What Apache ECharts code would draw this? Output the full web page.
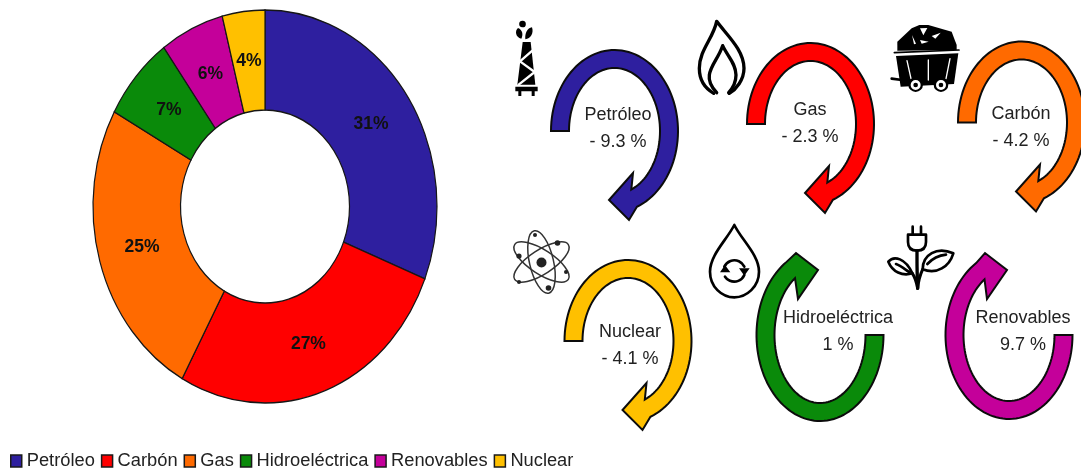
<!DOCTYPE html>
<html lang="es">
<head>
<meta charset="utf-8">
<title>Consumo de energía por fuente</title>
<style>
  html, body { margin: 0; padding: 0; background: #fff; }
  #chart { width: 1081px; height: 474px; }
</style>
<script src="https://cdn.jsdelivr.net/npm/echarts@6/dist/echarts.min.js"></script>
</head>
<body>
<div id="chart"></div>
<script>
// Participación de cada fuente (%)
const sourceNames = ['Petróleo', 'Carbón', 'Gas', 'Hidroeléctrica', 'Renovables', 'Nuclear'];
const sourceShares = [31, 27, 25, 7, 6, 4];
const sourceColors = ['#2E1F9F', '#FF0000', '#FF6A00', '#0A8A0A', '#C4009A', '#FFC000'];

// Variación anual de cada fuente (%)
const changeNames = ['Petróleo', 'Gas', 'Carbón', 'Nuclear', 'Hidroeléctrica', 'Renovables'];
const changeValues = [-9.3, -2.3, -4.2, -4.1, 1, 9.7];
const changeColors = ['#2E1F9F', '#FF0000', '#FF6A00', '#FFC000', '#0A8A0A', '#C4009A'];

// Geometría del anillo elíptico
const ring = { cx: 265, cy: 206.5, r0: 84.5, r: 172, scaleY: 1.1424, labelAt: 0.745 };

// Colocación de las flechas circulares y de sus rótulos
const arrowLayout = [
  { cx: 614.5, cy: 131, ry: 81, dir: 'down', tx: 618, ty: 115 },
  { cx: 810.5, cy: 124, ry: 81, dir: 'down', tx: 810, ty: 110 },
  { cx: 1021.5, cy: 122.5, ry: 81, dir: 'down', tx: 1021, ty: 114 },
  { cx: 628, cy: 341, ry: 81, dir: 'down', tx: 630, ty: 332 },
  { cx: 820, cy: 335, ry: 86, dir: 'up', tx: 838, ty: 318 },
  { cx: 1009, cy: 335, ry: 84, dir: 'up', tx: 1023, ty: 318 }
];
const arrowShape = { rx: 63.5, band: 18 };
const arrowHeads = {
  down: { startAngle: Math.PI, outerNotch: [22.5, 76], outerBarb: [14.5, 89], tip: [-5.5, 69], innerBarb: [18.5, 42], innerNotch: [15.5, 54] },
  up: { startAngle: 0, outerNotch: [-32, -70], outerBarb: [-24, -82], tip: [-2, -65], innerBarb: [-22, -36], innerNotch: [-22, -50] }
};

function donutItem(index) {
  const before = sourceShares.slice(0, index).reduce((a, b) => a + b, 0);
  return function (params, api) {
    const share = api.value(0);
    const start = -Math.PI / 2 + before / 100 * 2 * Math.PI;
    const end = start + share / 100 * 2 * Math.PI;
    const mid = (start + end) / 2;
    return {
      type: 'group',
      children: [
        {
          type: 'sector',
          x: ring.cx, y: ring.cy, scaleY: ring.scaleY,
          shape: { cx: 0, cy: 0, r0: ring.r0, r: ring.r, startAngle: start, endAngle: end, clockwise: true },
          style: { fill: api.visual('color'), stroke: '#161616', lineWidth: 1.2 }
        },
        {
          type: 'text',
          x: ring.cx + Math.cos(mid) * ring.r * ring.labelAt,
          y: ring.cy + Math.sin(mid) * ring.r * ring.scaleY * ring.labelAt,
          style: {
            text: share + '%', fill: '#111',
            font: 'bold 17.5px "Liberation Sans", Arial, sans-serif',
            align: 'center', verticalAlign: 'middle'
          }
        }
      ]
    };
  };
}

// Contorno de una flecha: arco exterior, punta y arco interior de regreso
function arrowPoints(box) {
  const head = arrowHeads[box.dir];
  const rxIn = arrowShape.rx - arrowShape.band;
  const ryIn = box.ry - arrowShape.band;
  const angleOf = (p, rx, ry) => {
    let a = Math.atan2(p[1] / ry, p[0] / rx);
    while (a < head.startAngle) a += 2 * Math.PI;
    return a;
  };
  const pts = [];
  const endOut = angleOf(head.outerNotch, arrowShape.rx, box.ry);
  const endIn = angleOf(head.innerNotch, rxIn, ryIn);
  const steps = 80;
  for (let i = 0; i <= steps; i++) {
    const a = head.startAngle + (endOut - head.startAngle) * i / steps;
    pts.push([box.cx + arrowShape.rx * Math.cos(a), box.cy + box.ry * Math.sin(a)]);
  }
  [head.outerBarb, head.tip, head.innerBarb].forEach(p => pts.push([box.cx + p[0], box.cy + p[1]]));
  for (let i = steps; i >= 0; i--) {
    const a = head.startAngle + (endIn - head.startAngle) * i / steps;
    pts.push([box.cx + rxIn * Math.cos(a), box.cy + ryIn * Math.sin(a)]);
  }
  return pts;
}

function changeLabel(v) {
  return v < 0 ? '- ' + Math.abs(v) + ' %' : v + ' %';
}

function arrowItem(params, api) {
  const i = params.dataIndex;
  const box = arrowLayout[i];
  const textStyle = { fill: '#222', font: '18px "Liberation Sans", Arial, sans-serif', align: 'center', verticalAlign: 'middle' };
  return {
    type: 'group',
    children: [
      {
        type: 'polygon',
        shape: { points: arrowPoints(box) },
        style: { fill: changeColors[i], stroke: '#0c0c0c', lineWidth: 2, lineJoin: 'miter' }
      },
      { type: 'text', x: box.tx, y: box.ty + 0.5, style: Object.assign({ text: changeNames[i] }, textStyle) },
      { type: 'text', x: box.tx, y: box.ty + 27.5, style: Object.assign({ text: changeLabel(api.value(0)) }, textStyle) }
    ]
  };
}

// Iconos: trazados en una retícula de 3 unidades por píxel
const third = 1 / 3;
function solid(x, y, pathData, fill) {
  return { type: 'path', x: x, y: y, scaleX: third, scaleY: third,
    shape: { pathData: pathData }, style: { fill: fill || '#000', stroke: null } };
}
function line(x, y, pathData, width, color) {
  return { type: 'path', x: x, y: y, scaleX: third, scaleY: third,
    shape: { pathData: pathData }, style: { fill: null, stroke: color || '#000', lineWidth: width, lineJoin: 'round', lineCap: 'round' } };
}
function orbit(cx, cy, rotationDeg) {
  return { type: 'ellipse', x: cx, y: cy, rotation: rotationDeg * Math.PI / 180,
    shape: { cx: 0, cy: 0, rx: 32, ry: 12 }, style: { fill: null, stroke: '#333', lineWidth: 1.5 } };
}
function dot(x, y, r, color) {
  return { type: 'circle', shape: { cx: x, cy: y, r: r }, style: { fill: color || '#222' } };
}

const derrick = [
  solid(500, 0, 'M68 62 a10 10 0 1 1 -1 0 Z M54 84 C44 92 46 112 64 116 C70 104 68 90 54 84 Z M96 82 C82 84 74 100 76 118 C92 116 102 100 96 82 Z'),
  solid(500, 0, 'M68 126 H92 L106 254 H52 Z'),
  line(500, 0, 'M97 152 L60 184 L104 216 L56 254', 7, '#fff'),
  solid(500, 0, 'M46 260 H113 V274 H104 V288 H95 V274 H64 V288 H55 V274 H46 Z')
];
const flame = [
  line(500, 0, 'M641 280 C620 268 598 245 598 205 C598 150 640 115 650 64 C680 105 732 150 732 205 C732 240 708 268 688 280', 10),
  line(500, 0, 'M650 278 C635 262 625 245 628 225 C632 195 655 175 668 137 C680 165 708 190 708 225 C708 248 695 268 686 278', 10)
];
const coalCart = [
  solid(780, 0, 'M352 152 L352 125 L395 85 L418 75 L445 75 L515 95 L530 135 L530 150 Z'),
  solid(780, 0, 'M420 85 L442 84 L430 106 Z M396 105 L408 131 L402 133 Z M420 120 L446 125 L425 131 Z M455 108 L482 98 L466 116 Z', '#fff'),
  line(780, 0, 'M343 158 L537 150', 5),
  solid(780, 0, 'M348 168 L535 160 L522 252 L362 260 Z'),
  line(780, 0, 'M381 182 L393 236 M445 180 L445 240 M510 176 L498 236', 4, '#fff'),
  line(780, 0, 'M335 236 L366 240', 8),
  solid(780, 0, 'M407 232 a22 22 0 1 1 -0.1 0 Z M483 232 a22 22 0 1 1 -0.1 0 Z'),
  solid(780, 0, 'M407 240 a15 15 0 1 1 -0.1 0 Z M483 240 a15 15 0 1 1 -0.1 0 Z', '#fff'),
  solid(780, 0, 'M407 248 a7 7 0 1 1 -0.1 0 Z M483 248 a7 7 0 1 1 -0.1 0 Z')
];
const atom = [
  orbit(541.5, 262, -77), orbit(541.5, 262, -33), orbit(541.5, 262, 33),
  dot(541.5, 262.5, 5), dot(535, 235, 2), dot(557.5, 243, 2.8), dot(519, 256, 2.6),
  dot(566, 272, 2), dot(519, 282, 2), dot(548.5, 288, 2.8)
];
const waterDrop = [
  line(500, 220, 'M703 15 C680 60 630 105 630 155 C630 200 665 232 703 232 C740 232 777 200 777 155 C777 105 725 60 703 15 Z', 8),
  line(500, 220, 'M673 140 A33 33 0 0 1 733 140 M733 165 A33 33 0 0 1 675 170', 8),
  solid(500, 220, 'M717 145 L749 145 L733 167 Z M660 157 L691 157 L675 135 Z')
];
const plugPlant = [
  line(780, 220, 'M398 20 V42 M423 20 V42', 8),
  line(780, 220, 'M384 44 H438 V66 C438 85 426 92 411 92 C396 92 384 85 384 66 Z', 8),
  line(780, 220, 'M411 92 V125 M411 125 C411 150 412 175 413 205', 10),
  line(780, 220, 'M428 148 C428 105 470 78 520 100 C508 140 470 165 428 148 Z M442 132 C458 115 478 106 498 104', 8),
  line(780, 220, 'M325 125 C342 105 377 115 397 160 C367 170 337 155 325 125 Z M348 132 C362 137 374 147 387 156', 8),
  line(780, 220, 'M428 148 C420 165 415 185 413 205 M397 160 C405 172 410 188 413 205', 9)
];
const iconParts = [].concat(derrick, flame, coalCart, atom, waterDrop, plugPlant);

const series = sourceNames.map((name, i) => ({
  name: name,
  type: 'custom',
  coordinateSystem: 'none',
  silent: true,
  animation: false,
  itemStyle: { color: sourceColors[i] },
  renderItem: donutItem(i),
  data: [[sourceShares[i]]]
}));
series.push({
  name: 'Variación',
  type: 'custom',
  coordinateSystem: 'none',
  silent: true,
  animation: false,
  clip: false,
  renderItem: arrowItem,
  data: changeValues.map(v => [v])
});
series.push({
  name: 'Iconos',
  type: 'custom',
  coordinateSystem: 'none',
  silent: true,
  animation: false,
  renderItem: () => ({ type: 'group', children: iconParts }),
  data: [[0]]
});

const chart = echarts.init(document.getElementById('chart'), null, { renderer: 'canvas' });
chart.setOption({
  backgroundColor: '#fff',
  animation: false,
  legend: {
    data: sourceNames,
    left: 10,
    top: 452,
    padding: 0,
    icon: 'rect',
    itemWidth: 11,
    itemHeight: 12,
    itemGap: 6,
    selectedMode: false,
    itemStyle: { borderColor: '#1a1a1a', borderWidth: 1.5 },
    textStyle: { color: '#222', fontSize: 18.3, fontFamily: '"Liberation Sans", Arial, sans-serif' }
  },
  series: series
});
</script>
</body>
</html>
